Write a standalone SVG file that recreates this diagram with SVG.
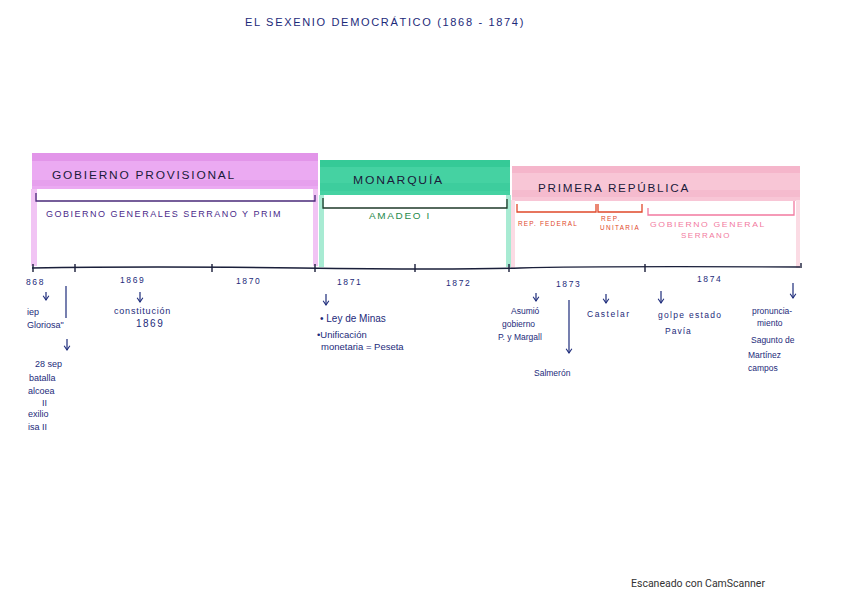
<svg xmlns="http://www.w3.org/2000/svg" width="848" height="599" viewBox="0 0 848 599">
<style>
.t{font-family:"Liberation Sans",Arial,sans-serif;font-size:10px;fill:#1c2a7a}
.c{font-family:"Liberation Sans",Arial,sans-serif;font-size:10px;fill:#1c2a7a;letter-spacing:1.5px}
.y{font-family:"Liberation Sans",Arial,sans-serif;font-size:8.5px;fill:#1c2a7a;letter-spacing:1.6px}
.ax{stroke:#1a1f3a;stroke-width:1.4;fill:none}
.ar{stroke:#1c2a7a;stroke-width:1.2;fill:none}
.br{fill:none;stroke-width:1.3}
</style>
<defs>
<marker id="ah" viewBox="0 0 10 10" refX="9" refY="5" markerWidth="6" markerHeight="6" orient="auto"><path d="M3 1 L9 5 L3 9" fill="none" stroke="#1c2a7a" stroke-width="1.5"/></marker>
</defs>
<rect width="848" height="599" fill="#ffffff"/>
<text class="c" x="245" y="26" textLength="280" lengthAdjust="spacingAndGlyphs">EL SEXENIO  DEMOCRÁTICO  (1868 - 1874)</text>

<g id="gobierno-provisional">
<rect x="32" y="153" width="286" height="36" fill="#ebaaf2"/>
<rect x="32" y="153" width="286" height="8" fill="#de8ce6" opacity="0.7"/>
<rect x="32" y="180" width="286" height="6" fill="#e29ae9" opacity="0.6"/>
<rect x="31" y="189" width="6" height="77" fill="#f1c4f4"/>
<rect x="313" y="189" width="5" height="77" fill="#f1c4f4"/>
<text class="c" x="52" y="179" textLength="184" lengthAdjust="spacingAndGlyphs" style="fill:#1a1a3a">GOBIERNO  PROVISIONAL</text>
<path class="br" d="M36 193 V201 H315 V195" stroke="#4a2a7a"/>
<text class="c" x="46" y="217" textLength="236" lengthAdjust="spacingAndGlyphs" style="fill:#4a2a8a;font-size:9px">GOBIERNO GENERALES SERRANO Y PRIM</text>
</g>

<g id="monarquia">
<rect x="320" y="160" width="190" height="35" fill="#45d2a2"/>
<rect x="320" y="160" width="190" height="7" fill="#2fc693" opacity="0.7"/>
<rect x="320" y="183" width="190" height="8" fill="#38c99a" opacity="0.6"/>
<rect x="319" y="195" width="5" height="72" fill="#a8ebd3"/>
<rect x="506" y="195" width="5" height="72" fill="#a8ebd3"/>
<text class="c" x="353" y="184" textLength="91" lengthAdjust="spacingAndGlyphs" style="fill:#1a1a3a">MONARQUÍA</text>
<path class="br" d="M323 198 V208 H507 V199" stroke="#1f3a2a"/>
<text class="c" x="369" y="219" textLength="62" lengthAdjust="spacingAndGlyphs" style="fill:#1f8a4a;font-size:9px">AMADEO I</text>
</g>

<g id="primera-republica">
<rect x="512" y="166" width="288" height="35" fill="#f8c6d6"/>
<rect x="512" y="166" width="288" height="7" fill="#f4afc6" opacity="0.7"/>
<rect x="512" y="190" width="288" height="7" fill="#f4b4c8" opacity="0.6"/>
<rect x="511" y="200" width="4" height="68" fill="#fbdbe4"/>
<rect x="796" y="200" width="4" height="68" fill="#fbdbe4"/>
<text class="c" x="538" y="192" textLength="152" lengthAdjust="spacingAndGlyphs" style="fill:#1a1a3a">PRIMERA    REPÚBLICA</text>
<path class="br" d="M517 204 V212 H596 V204" stroke="#e0482a"/>
<path class="br" d="M598 204 V212 H642 V204" stroke="#e0482a"/>
<path class="br" d="M648 208 V215 H794 V201" stroke="#f27aa0"/>
<text class="c" x="518" y="226" textLength="60" lengthAdjust="spacingAndGlyphs" style="fill:#e0482a;font-size:8px">REP. FEDERAL</text>
<text class="c" x="601" y="221" textLength="20" lengthAdjust="spacingAndGlyphs" style="fill:#e0482a;font-size:7px">REP.</text>
<text class="c" x="600" y="230" textLength="40" lengthAdjust="spacingAndGlyphs" style="fill:#e0482a;font-size:7px">UNITARIA</text>
<text class="c" x="650" y="227" textLength="116" lengthAdjust="spacingAndGlyphs" style="fill:#f27aa0;font-size:8px">GOBIERNO GENERAL</text>
<text class="c" x="681" y="238" textLength="50" lengthAdjust="spacingAndGlyphs" style="fill:#f27aa0;font-size:8px">SERRANO</text>
</g>

<g id="timeline">
<path class="ax" d="M32 268 Q150 266 300 268 T 520 268 T 800 267"/>
<path class="ax" d="M33 264 V272 M75 264 V272 M212 264 V272 M315 264 V272 M415 264 V272 M509 264 V272 M645 264 V272 M801 263 V268"/>
<text class="y" x="26" y="285">868</text>
<text class="y" x="120" y="283">1869</text>
<text class="y" x="236" y="284">1870</text>
<text class="y" x="337" y="285">1871</text>
<text class="y" x="446" y="286">1872</text>
<text class="y" x="556" y="287">1873</text>
<text class="y" x="697" y="282">1874</text>
</g>

<g id="connectors">
<path class="ar" d="M46 292 V300" marker-end="url(#ah)"/>
<path class="ar" d="M66 286 V318"/>
<path class="ar" d="M67 339 V350" marker-end="url(#ah)"/>
<path class="ar" d="M140 292 V302" marker-end="url(#ah)"/>
<path class="ar" d="M326 294 V305" marker-end="url(#ah)"/>
<path class="ar" d="M536 293 V301" marker-end="url(#ah)"/>
<path class="ar" d="M569 300 V353" marker-end="url(#ah)"/>
<path class="ar" d="M606 294 V303" marker-end="url(#ah)"/>
<path class="ar" d="M661 291 V303" marker-end="url(#ah)"/>
<path class="ar" d="M793 283 V298" marker-end="url(#ah)"/>
</g>

<g id="ev-1868">
<text class="t" x="27" y="315" style="font-size:9px">iep</text>
<text class="t" x="27" y="328" style="font-size:9px">Gloriosa"</text>
<text class="t" x="35" y="367" style="font-size:9px">28 sep</text>
<text class="t" x="29" y="381" style="font-size:9px">batalla</text>
<text class="t" x="28" y="394" style="font-size:9px">alcoea</text>
<text class="t" x="42" y="406" style="font-size:9px">II</text>
<text class="t" x="28" y="417" style="font-size:9px">exilio</text>
<text class="t" x="28" y="430" style="font-size:9px">isa II</text>
</g>
<g id="ev-1869">
<text class="t" x="114" y="314" style="font-size:9px;letter-spacing:0.8px">constitución</text>
<text class="t" x="136" y="327" style="font-size:10px;letter-spacing:1.5px">1869</text>
</g>
<g id="ev-1871">
<text class="t" x="320" y="322" style="font-size:10px">• Ley de Minas</text>
<text class="t" x="317" y="338" style="font-size:9.5px">•Unificación</text>
<text class="t" x="321" y="350" style="font-size:9.5px">monetaria = Peseta</text>
</g>
<g id="ev-1873">
<text class="t" x="511" y="314" style="font-size:8.5px">Asumió</text>
<text class="t" x="502" y="327" style="font-size:8.5px">gobierno</text>
<text class="t" x="498" y="340" style="font-size:8.5px">P. y Margall</text>
<text class="t" x="534" y="376" style="font-size:8.5px">Salmerón</text>
<text class="t" x="587" y="317" style="font-size:8.5px;letter-spacing:1.5px">Castelar</text>
</g>
<g id="ev-1874">
<text class="t" x="658" y="318" style="font-size:8.5px;letter-spacing:1.3px">golpe estado</text>
<text class="t" x="665" y="334" style="font-size:8.5px;letter-spacing:1px">Pavía</text>
<text class="t" x="752" y="314" style="font-size:8.5px">pronuncia-</text>
<text class="t" x="757" y="326" style="font-size:8.5px">miento</text>
<text class="t" x="751" y="343" style="font-size:8.5px">Sagunto de</text>
<text class="t" x="748" y="358" style="font-size:8.5px">Martínez</text>
<text class="t" x="748" y="371" style="font-size:8.5px">campos</text>
</g>
<text x="631" y="587" style="font-family:Roboto,'Liberation Sans',sans-serif;font-size:10.5px;fill:#333">Escaneado con CamScanner</text>
</svg>
